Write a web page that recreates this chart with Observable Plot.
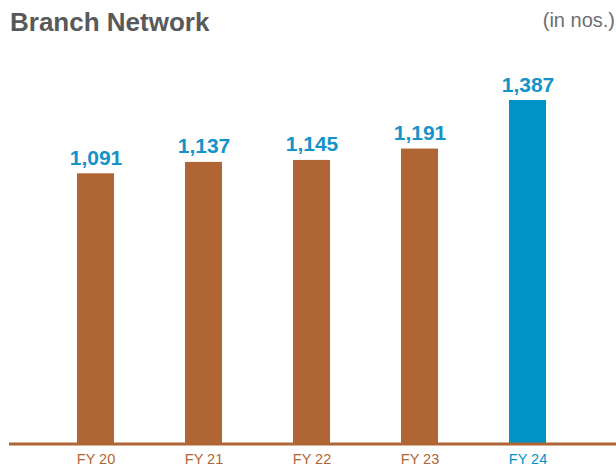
<!DOCTYPE html>
<html>
<head>
<meta charset="utf-8">
<script src="https://cdn.jsdelivr.net/npm/d3@7"></script>
<script src="https://cdn.jsdelivr.net/npm/@observablehq/plot@0.6"></script>
<style>
  html, body { margin: 0; padding: 0; background: #fff; }
  #wrap { position: relative; width: 616px; height: 467px; font-family: "Liberation Sans", Arial, Helvetica, sans-serif; }
  #title { position: absolute; left: 10px; top: 7px; font-size: 26px; font-weight: bold; color: #58595b; white-space: nowrap; }
  #unit { position: absolute; right: 1px; top: 9px; font-size: 20px; color: #6d6e71; white-space: nowrap; }
  #chart { position: absolute; left: 0; top: 0; }
</style>
</head>
<body>
<div id="wrap">
  <div id="chart"></div>
  <div id="title">Branch Network</div>
  <div id="unit">(in nos.)</div>
</div>
<script>
const years = ["FY 20", "FY 21", "FY 22", "FY 23", "FY 24"];
const branches = [1091, 1137, 1145, 1191, 1387];
const highlight = "FY 24";

const brown = "#b06634";
const blue = "#0093c8";
const labelBlue = "#1593c9";

const data = years.map((year, i) => ({year, value: branches[i]}));
const fmt = d3.format(",");

const chart = Plot.plot({
  width: 616,
  height: 467,
  marginLeft: 9,
  marginRight: 0,
  marginTop: 0,
  marginBottom: 0,
  style: {fontFamily: "'Liberation Sans', Arial, Helvetica, sans-serif", background: "transparent"},
  x: {domain: years, range: [41.5, 581.5], paddingInner: 0.657, paddingOuter: 0.3285, axis: null},
  y: {domain: [0, 1387], range: [443.5, 100], axis: null},
  marks: [
    Plot.barY(data, {x: "year", y: "value", fill: d => d.year === highlight ? blue : brown}),
    Plot.ruleY([0], {stroke: brown, strokeWidth: 3}),
    Plot.text(data, {x: "year", y: "value", text: d => fmt(d.value), lineAnchor: "bottom", dy: -9,
      fill: labelBlue, fontSize: 21, fontWeight: "bold"}),
    Plot.text(data, {x: "year", y: 0, text: "year", lineAnchor: "bottom", dy: 19.5,
      fill: d => d.year === highlight ? blue : brown, fontSize: 14.5})
  ]
});
document.getElementById("chart").appendChild(chart);
</script>
</body>
</html>
